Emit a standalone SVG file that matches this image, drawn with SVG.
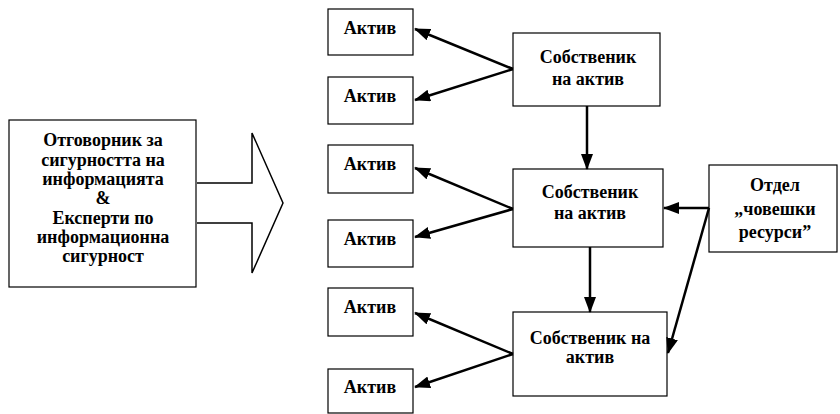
<svg xmlns="http://www.w3.org/2000/svg" width="840" height="414" viewBox="0 0 840 414">
<style>
.box{fill:#fff;stroke:#000;stroke-width:1.2}
.t{font-family:"Liberation Serif","Times New Roman",serif;font-weight:bold;font-size:18px;text-anchor:middle;fill:#000}
.c{fill:none;stroke:#000;stroke-width:2.5}
</style>
<defs>
<marker id="ah" markerUnits="userSpaceOnUse" markerWidth="16" markerHeight="12" refX="15" refY="6" orient="auto">
<path d="M0,0 L16,6 L0,12 Z" fill="#000"/>
</marker>
</defs>
<rect width="840" height="414" fill="#fff"/>
<g id="security">
<rect class="box" x="9" y="120" width="187" height="167"/>
<text class="t" x="103" y="146">Отговорник за</text>
<text class="t" x="103" y="166">сигурността на</text>
<text class="t" x="103" y="185">информацията</text>
<text class="t" x="103" y="204">&amp;</text>
<text class="t" x="103" y="224">Експерти по</text>
<text class="t" x="103" y="243">информационна</text>
<text class="t" x="103" y="262">сигурност</text>
</g>
<g id="bigArrow">
<path d="M197,183 L252,183 L252,133 L283,203 L252,273 L252,223 L197,223" fill="#fff" stroke="#000" stroke-width="1.5"/>
</g>
<g id="asset1"><rect class="box" x="328" y="9" width="85" height="46"/><text class="t" x="370" y="34">Актив</text></g>
<g id="asset2"><rect class="box" x="328" y="77" width="85" height="47"/><text class="t" x="370" y="102">Актив</text></g>
<g id="asset3"><rect class="box" x="328" y="145" width="85" height="48"/><text class="t" x="370" y="170">Актив</text></g>
<g id="asset4"><rect class="box" x="328" y="220" width="85" height="47"/><text class="t" x="370" y="245">Актив</text></g>
<g id="asset5"><rect class="box" x="328" y="288" width="85" height="48"/><text class="t" x="370" y="313">Актив</text></g>
<g id="asset6"><rect class="box" x="328" y="369" width="85" height="44"/><text class="t" x="370" y="393">Актив</text></g>
<g id="owner1"><rect class="box" x="513" y="33" width="147" height="73"/><text class="t" x="588" y="63">Собственик</text><text class="t" x="588" y="85">на актив</text></g>
<g id="owner2"><rect class="box" x="513" y="169" width="150" height="78"/><text class="t" x="590" y="198">Собственик</text><text class="t" x="590" y="219">на актив</text></g>
<g id="owner3"><rect class="box" x="513" y="312" width="154" height="84"/><text class="t" x="590" y="344">Собственик на</text><text class="t" x="590" y="363">актив</text></g>
<g id="hr"><rect class="box" x="709" y="165" width="128" height="87"/><text class="t" x="775" y="191">Отдел</text><text class="t" x="775" y="215">„човешки</text><text class="t" x="775" y="238">ресурси”</text></g>
<g id="connectors">
<line class="c" x1="513" y1="69" x2="415" y2="29" marker-end="url(#ah)"/>
<line class="c" x1="513" y1="69" x2="415" y2="100" marker-end="url(#ah)"/>
<line class="c" x1="587" y1="106" x2="587" y2="169" marker-end="url(#ah)"/>
<line class="c" x1="513" y1="209" x2="415" y2="168" marker-end="url(#ah)"/>
<line class="c" x1="513" y1="209" x2="415" y2="237" marker-end="url(#ah)"/>
<line class="c" x1="590" y1="247" x2="590" y2="312" marker-end="url(#ah)"/>
<line class="c" x1="513" y1="354" x2="415" y2="313" marker-end="url(#ah)"/>
<line class="c" x1="513" y1="354" x2="415" y2="387" marker-end="url(#ah)"/>
<line class="c" x1="709" y1="208" x2="664" y2="208" marker-end="url(#ah)"/>
<line class="c" x1="709" y1="208" x2="668" y2="353" marker-end="url(#ah)"/>
</g>
</svg>
